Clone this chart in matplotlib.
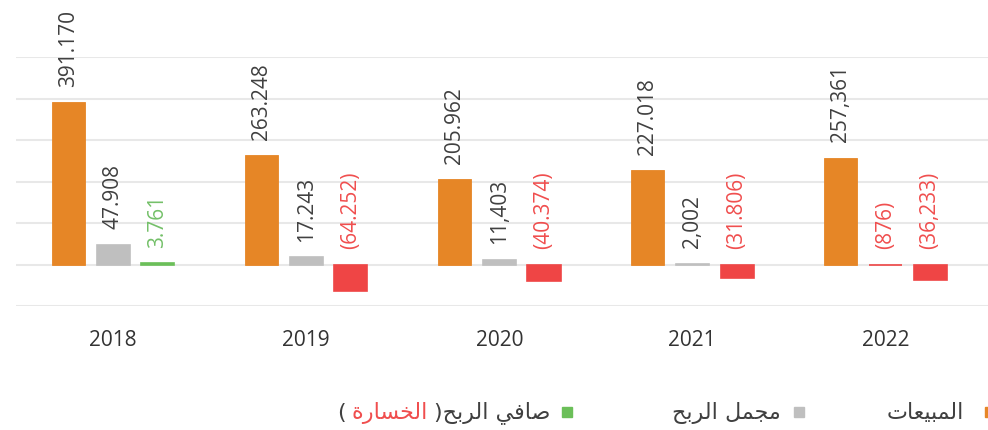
import matplotlib
matplotlib.use("Agg")
import matplotlib.pyplot as plt
from matplotlib.patches import Rectangle
import numpy as np

# ---------------- data ----------------
years = ["2018", "2019", "2020", "2021", "2022"]
sales = [391170, 263248, 205962, 227018, 257361]
gross = [47908, 17243, 11403, 2002, -876]
net = [3761, -64252, -40374, -31806, -36233]
sales_labels = ["391.170", "263.248", "205.962", "227.018", "257,361"]
gross_labels = ["47.908", "17.243", "11,403", "2,002", "(876)"]
net_labels = ["3.761", "(64.252)", "(40.374)", "(31.806)", "(36,233)"]
legend_sales = "المبيعات"
legend_gross = "مجمل الربح"
legend_net = "صافي الربح"
legend_loss = "الخسارة"

ORANGE = "#E68626"
GRAY = "#BFBFBF"
GREEN = "#6BBF59"
RED = "#EF4545"
LABEL_GREEN = "#74C069"
LABEL_RED = "#F04E4E"
TXT = "#404040"

# ---------- minimal Arabic shaping ----------
FORMS = {
    'ا': ('\uFE8D', '\uFE8E', '\uFE8D', '\uFE8E'),
    'ب': ('\uFE8F', '\uFE90', '\uFE91', '\uFE92'),
    'ة': ('\uFE93', '\uFE94', '\uFE93', '\uFE94'),
    'ت': ('\uFE95', '\uFE96', '\uFE97', '\uFE98'),
    'ج': ('\uFE9D', '\uFE9E', '\uFE9F', '\uFEA0'),
    'ح': ('\uFEA1', '\uFEA2', '\uFEA3', '\uFEA4'),
    'خ': ('\uFEA5', '\uFEA6', '\uFEA7', '\uFEA8'),
    'ر': ('\uFEAD', '\uFEAE', '\uFEAD', '\uFEAE'),
    'س': ('\uFEB1', '\uFEB2', '\uFEB3', '\uFEB4'),
    'ص': ('\uFEB9', '\uFEBA', '\uFEBB', '\uFEBC'),
    'ع': ('\uFEC9', '\uFECA', '\uFECB', '\uFECC'),
    'ف': ('\uFED1', '\uFED2', '\uFED3', '\uFED4'),
    'ل': ('\uFEDD', '\uFEDE', '\uFEDF', '\uFEE0'),
    'م': ('\uFEE1', '\uFEE2', '\uFEE3', '\uFEE4'),
    'ي': ('\uFEF1', '\uFEF2', '\uFEF3', '\uFEF4'),
}
RIGHT_ONLY = set('اةرزدذو')


def shape(s):
    out = []
    for i, c in enumerate(s):
        if c not in FORMS:
            out.append(c)
            continue
        prev = s[i - 1] if i > 0 else None
        nxt = s[i + 1] if i < len(s) - 1 else None
        jp = prev in FORMS and prev not in RIGHT_ONLY
        jn = (c not in RIGHT_ONLY) and (nxt in FORMS)
        f = FORMS[c]
        if jp and jn:
            g = f[3]
        elif jp:
            g = f[1]
        elif jn:
            g = f[2]
        else:
            g = f[0]
        out.append(g)
    return ''.join(out)[::-1]


plt.rcParams['font.family'] = ['Open Sans', 'DejaVu Sans']

W, H = 988, 430
fig = plt.figure(figsize=(W / 100, H / 100), dpi=100)
ax = fig.add_axes([16 / W, 1 - 306 / H, 1 - 16 / W, (306 - 57) / H])

x = np.arange(len(years))
bw = 0.171
off = 0.2316

ax.bar(x - off, sales, bw, color=ORANGE, edgecolor=ORANGE, linewidth=0.6, zorder=3)
gcol = [GRAY if v >= 0 else RED for v in gross]
ax.bar(x, gross, bw, color=gcol, edgecolor=gcol, linewidth=1.2, zorder=3)
ncol = [GREEN if v >= 0 else RED for v in net]
ax.bar(x + off, net, bw, color=ncol, edgecolor=ncol, linewidth=1.2, zorder=3)

OFFS = 11
for xi, v, lab in zip(x - off, sales, sales_labels):
    ax.annotate(lab, xy=(xi, max(v, 0)), xytext=(0, OFFS), textcoords='offset points',
                rotation=90, ha='center', va='bottom', fontsize=15, color=TXT)
for xi, v, lab in zip(x, gross, gross_labels):
    ax.annotate(lab, xy=(xi, max(v, 0)), xytext=(0, OFFS), textcoords='offset points',
                rotation=90, ha='center', va='bottom', fontsize=15,
                color=TXT if v >= 0 else LABEL_RED)
for xi, v, lab in zip(x + off, net, net_labels):
    ax.annotate(lab, xy=(xi, max(v, 0)), xytext=(0, OFFS), textcoords='offset points',
                rotation=90, ha='center', va='bottom', fontsize=15,
                color=LABEL_GREEN if v >= 0 else LABEL_RED)

ax.set_ylim(-100000, 500000)
ax.set_xlim(-0.504, 4.532)
ax.set_yticks(np.arange(-100000, 500001, 100000))
ax.yaxis.grid(True, color="#E8E8E8", linewidth=1.5, zorder=0)
ax.tick_params(axis='y', left=False, labelleft=False)
ax.set_xticks(x)
ax.set_xticklabels(years, fontsize=15, color="#333333")
ax.tick_params(axis='x', length=0, pad=17)
for s in ax.spines.values():
    s.set_visible(False)
ax.set_axisbelow(True)

# ---------- legend (manual, RTL) ----------
ar_font = ['DejaVu Sans']
LFS = 16
ly = 1 - 413 / H
sq = 10


def square(xl, color):
    fig.patches.append(Rectangle((xl / W, 1 - 417 / H), sq / W, sq / H,
                                 transform=fig.transFigure, color=color))


square(985, ORANGE)
fig.text(964 / W, ly, shape(legend_sales), ha='right', va='center', fontsize=LFS,
         color=TXT, family=ar_font)
square(794, GRAY)
fig.text(781 / W, ly, shape(legend_gross), ha='right', va='center', fontsize=LFS,
         color=TXT, family=ar_font)
square(562, GREEN)
t1 = fig.text(550 / W, ly, ")" + shape(legend_net), ha='right', va='center', fontsize=LFS,
              color=TXT, family=ar_font)
fig.canvas.draw()
r = fig.canvas.get_renderer()
bb = t1.get_window_extent(r)
t2 = fig.text((bb.x0 - 6) / W, ly, shape(legend_loss), ha='right', va='center',
              fontsize=LFS, color=LABEL_RED, family=ar_font)
bb2 = t2.get_window_extent(r)
fig.text((bb2.x0 - 6) / W, ly, "(", ha='right', va='center', fontsize=LFS,
         color=TXT, family=ar_font)

fig.savefig("out.png", dpi=100)
